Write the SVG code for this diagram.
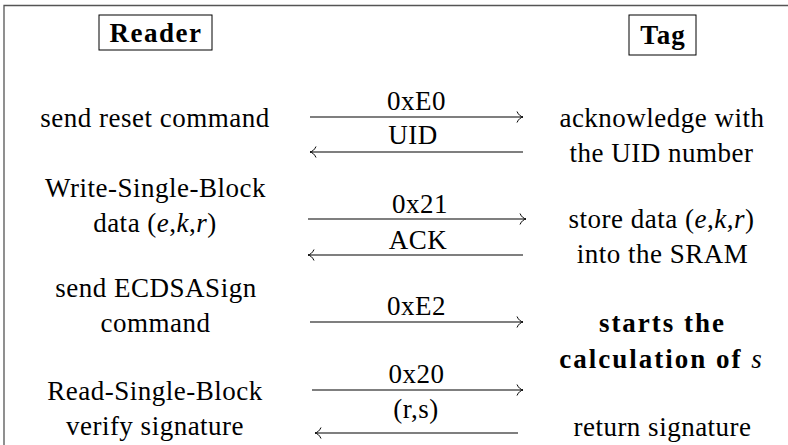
<svg xmlns="http://www.w3.org/2000/svg" width="788" height="445" viewBox="0 0 788 445">
<defs>
<marker id="ah" markerUnits="userSpaceOnUse" markerWidth="14" markerHeight="14" viewBox="-8 -7 10 14" refX="0" refY="0" orient="auto" overflow="visible">
<path d="M-6,-5.5 C-4.5,-2 -2,-0.4 0,0 C-2,0.4 -4.5,2 -6,5.5" fill="none" stroke="#000" stroke-width="1"/>
</marker>
</defs>
<rect width="788" height="445" fill="#fff"/>
<path d="M4,445 V5.5 H788" fill="none" stroke="#555" stroke-width="1.3"/>

<g id="reader" font-family="Liberation Serif" font-size="27" text-anchor="middle">
<rect x="99" y="15" width="113" height="35" fill="none" stroke="#000"/>
<text x="156" y="42" font-weight="bold" letter-spacing="1.5">Reader</text>
</g>
<g id="tag" font-family="Liberation Serif" font-size="27" text-anchor="middle">
<rect x="629" y="15" width="67" height="40" fill="none" stroke="#000"/>
<text x="663" y="44" font-weight="bold" letter-spacing="1">Tag</text>
</g>

<g id="reader-steps" font-family="Liberation Serif" font-size="27" text-anchor="middle" letter-spacing="0.5">
<text x="155" y="127">send reset command</text>
<text x="155.5" y="197">Write-Single-Block</text>
<text x="155" y="232">data (<tspan font-style="italic">e</tspan>,<tspan font-style="italic">k</tspan>,<tspan font-style="italic">r</tspan>)</text>
<text x="156" y="297">send ECDSASign</text>
<text x="155.5" y="332">command</text>
<text x="155" y="400">Read-Single-Block</text>
<text x="155" y="435">verify signature</text>
</g>

<g id="tag-steps" font-family="Liberation Serif" font-size="27" text-anchor="middle" letter-spacing="0.5">
<text x="662" y="127">acknowledge with</text>
<text x="661.5" y="162">the UID number</text>
<text x="661.5" y="228">store data (<tspan font-style="italic">e</tspan>,<tspan font-style="italic">k</tspan>,<tspan font-style="italic">r</tspan>)</text>
<text x="662.5" y="263">into the SRAM</text>
<text x="662.5" y="332" font-weight="bold" letter-spacing="2">starts the</text>
<text x="661.5" y="368" font-weight="bold" letter-spacing="2">calculation of <tspan font-style="italic" font-weight="normal">s</tspan></text>
<text x="662.5" y="436">return signature</text>
</g>

<g id="connectors" stroke="#000" stroke-width="1.1" fill="none" marker-end="url(#ah)">
<path d="M310,117 H523"/>
<path d="M523,152 H310"/>
<path d="M308,219 H526"/>
<path d="M523,255 H308"/>
<path d="M310,322 H523"/>
<path d="M312,390 H523"/>
<path d="M518,433 H315"/>
</g>

<g id="labels" font-family="Liberation Serif" font-size="27" text-anchor="middle" letter-spacing="0.5">
<text x="416.5" y="110">0xE0</text>
<text x="413" y="144">UID</text>
<text x="420" y="213">0x21</text>
<text x="418" y="249">ACK</text>
<text x="416.5" y="315">0xE2</text>
<text x="416.5" y="383">0x20</text>
<text x="416" y="418">(r,s)</text>
</g>
</svg>
